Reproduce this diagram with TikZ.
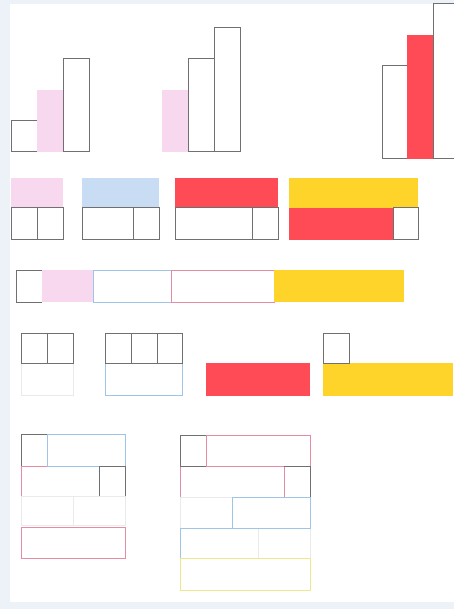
\documentclass[tikz,border=0pt]{standalone}
\usepackage{tikz}
\usepackage{xcolor}
\usetikzlibrary{positioning}
\definecolor{pageBlue}{RGB}{236,242,248}
\definecolor{barGray}{RGB}{112,112,112}
\definecolor{barPink}{RGB}{248,216,238}
\definecolor{barBlue}{RGB}{200,221,243}
\definecolor{barRed}{RGB}{255,75,85}
\definecolor{barYellow}{RGB}{255,212,42}
\definecolor{linePink}{RGB}{230,140,162}
\definecolor{lineBlue}{RGB}{160,196,230}
\definecolor{lineYellow}{RGB}{238,232,140}
\definecolor{lineFaint}{RGB}{234,234,234}

\begin{document}
\begin{tikzpicture}[x=1pt, y=-1pt,
  graycell/.style={draw=barGray, line width=1pt},
  pinkline/.style={draw=linePink, line width=1pt},
  blueline/.style={draw=lineBlue, line width=1pt},
  yellowline/.style={draw=lineYellow, line width=1pt},
  faintline/.style={draw=lineFaint, line width=0.8pt}]
  \useasboundingbox (0,0) rectangle (454,609);
  \clip (0,0) rectangle (454,609);

  % Page
  \fill[pageBlue] (0,0) rectangle (454,609);
  \fill[white] (10,4) rectangle (454,602);

  % Bar charts
  \draw[graycell] (11,152) rectangle (37,121);
  \fill[barPink] (37,152) rectangle (63,90);
  \draw[graycell] (63,152) rectangle (89,59);

  \fill[barPink] (162,152) rectangle (188,90);
  \draw[graycell] (188,152) rectangle (214,59);
  \draw[graycell] (214,152) rectangle (240,28);

  \draw[graycell] (382,159) rectangle (407,66);
  \fill[barRed] (407,159) rectangle (433,35);
  \draw[graycell] (433,159) rectangle (459,4);

  % Coloured strips over cells
  \fill[barPink] (11,178) rectangle (63,208);
  \draw[graycell] (11,208) rectangle (37,240) (37,208) rectangle (63,240);

  \fill[barBlue] (82,178) rectangle (159,208);
  \draw[graycell] (82,208) rectangle (133,240) (133,208) rectangle (159,240);

  \fill[barRed] (175,178) rectangle (278,208);
  \draw[graycell] (175,208) rectangle (252,240) (252,208) rectangle (278,240);

  \fill[barYellow] (289,178) rectangle (418,208);
  \fill[barRed] (289,208) rectangle (393,240);
  \draw[graycell] (393,208) rectangle (418,240);

  % Long strip
  \fill[barPink] (42,270) rectangle (93,302);
  \draw[graycell] (42,270) -- (16,270) -- (16,302) -- (42,302);
  \draw[blueline] (93,270) rectangle (171,302);
  \draw[pinkline] (171,270) rectangle (274,302);
  \fill[barYellow] (274,270) rectangle (404,302);

  % Cells over strips
  \draw[faintline] (21,363) rectangle (73,395);
  \draw[graycell] (21,333) rectangle (47,363) (47,333) rectangle (73,363);

  \draw[blueline] (105,363) rectangle (182,395);
  \foreach \x/\xx in {105/131, 131/157, 157/182}
    \draw[graycell] (\x,333) rectangle (\xx,363);

  \fill[barRed] (206,363) rectangle (310,396);

  \fill[barYellow] (323,363) rectangle (453,396);
  \draw[graycell] (323,333) rectangle (349,363);

  % Stacked rows, left
  \draw[faintline] (21,496) rectangle (73,525) (73,496) rectangle (125,525);
  \draw[pinkline] (99,466) -- (21,466) -- (21,496);
  \draw[blueline] (47,434) rectangle (125,466);
  \draw[graycell] (47,434) -- (21,434) -- (21,466);
  \draw[graycell] (99,496) -- (99,466) -- (125,466) -- (125,496);
  \draw[pinkline] (21,527) rectangle (125,558);

  % Stacked rows, right
  \draw[faintline] (180,497) rectangle (232,528);
  \draw[faintline] (258,528) rectangle (310,558);
  \draw[pinkline] (206,435) rectangle (310,466);
  \draw[pinkline] (284,497) -- (284,466) -- (180,466) -- (180,497);
  \draw[blueline] (232,497) rectangle (310,528);
  \draw[blueline] (258,528) -- (180,528) -- (180,558);
  \draw[yellowline] (180,558) rectangle (310,590);
  \draw[graycell] (206,435) -- (180,435) -- (180,466) -- (206,466);
  \draw[graycell] (284,466) -- (310,466) -- (310,497);
\end{tikzpicture}
\end{document}
